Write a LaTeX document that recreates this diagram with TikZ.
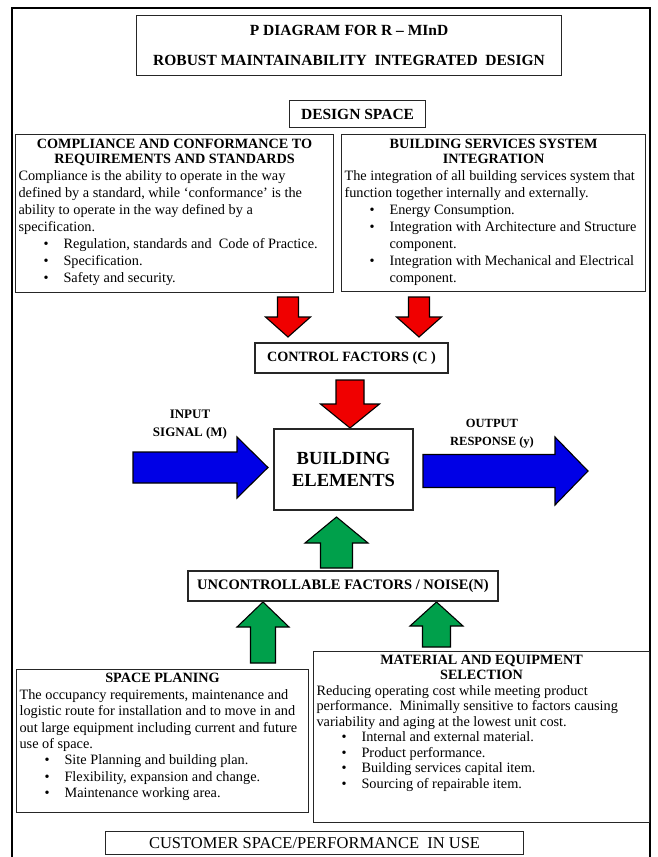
\documentclass[tikz,border=0pt]{standalone}
\usepackage{fontspec}
\setmainfont{Liberation Serif}
\definecolor{pred}{RGB}{240, 0, 0}
\definecolor{pblue}{RGB}{0, 0, 230}
\definecolor{pgreen}{RGB}{0, 160, 75}
\newcommand{\pbul}[1]{\par\hangindent=45pt\hangafter=1\noindent\hspace*{25pt}\makebox[20pt][l]{\textbullet}#1}
\newcommand{\phead}[1]{{\centering\bfseries\fontsize{14.2}{15}\selectfont #1\par}}

\begin{document}
\begin{tikzpicture}[x=1pt, y=-1pt,
	pbox/.style={draw=black!85, line width=1.1pt, fill=white, inner xsep=3pt, inner ysep=0pt},
	parrow/.style={draw=black, line width=1.1pt, line join=miter},
	plabel/.style={align=center, font=\fontsize{13}{18}\selectfont\bfseries}]
	\useasboundingbox (0, 0) rectangle (657, 857);
	\clip (0, 0) rectangle (657, 857);
	\fill[white] (0, 0) rectangle (657, 857);

	% outer frame
	\draw[line width=1.8pt] (12, 860) -- (12, 8) -- (650, 8) -- (650, 860);

	% title
	\node[pbox, anchor=north west, minimum width=425pt, minimum height=60pt, align=center,
		font=\fontsize{15.5}{30}\selectfont\bfseries] (title) at (136, 15)
		{P DIAGRAM FOR R – MInD\\ROBUST MAINTAINABILITY\ \ INTEGRATED\ \ DESIGN};
	\node[pbox, anchor=north west, minimum width=136pt, minimum height=27pt,
		font=\fontsize{15.5}{17}\selectfont\bfseries] (design) at (289, 100) {DESIGN SPACE};

	% design space boxes
	\node[pbox, anchor=north west] (compliance) at (15, 134) {\parbox[c][158pt][t]{312pt}{%
		\fontsize{14.3}{17}\selectfont\vspace*{5pt}
		\phead{COMPLIANCE AND CONFORMANCE TO\\REQUIREMENTS AND STANDARDS}
		\raggedright
		Compliance is the ability to operate in the way\\
		defined by a standard, while ‘conformance’ is the\\
		ability to operate in the way defined by a\\
		specification.
		\pbul{Regulation, standards and\ \ Code of Practice.}
		\pbul{Specification.}
		\pbul{Safety and security.}}};
	\node[pbox, anchor=north west] (services) at (341, 134) {\parbox[c][157pt][t]{298pt}{%
		\fontsize{14.3}{17}\selectfont\vspace*{5pt}
		\phead{BUILDING SERVICES SYSTEM\\INTEGRATION}
		\raggedright
		The integration of all building services system that\\
		function together internally and externally.
		\pbul{Energy Consumption.}
		\pbul{Integration with Architecture and Structure\newline component.}
		\pbul{Integration with Mechanical and Electrical\newline component.}}};

	% control factors
	\foreach \x/\ya/\yb/\s/\h/\k in {288/297/337/10.5/22.5/20, 419/297/337/10.5/22.5/20, 350/380/428/14/29.5/24}{
		\filldraw[parrow, fill=pred] (\x-\s, \ya) -- (\x+\s, \ya) -- (\x+\s, \yb-\k) -- (\x+\h, \yb-\k)
			-- (\x, \yb) -- (\x-\h, \yb-\k) -- (\x-\s, \yb-\k) -- cycle;
	}
	\node[pbox, minimum width=193pt, minimum height=30pt, font=\fontsize{14.2}{16}\selectfont\bfseries]
		(control) at (351.5, 358) {CONTROL FACTORS (C )};

	% signal and response
	\foreach \xa/\xb/\y/\s/\h/\k in {133/268/467.5/15.5/30.5/31, 423/588/471/16.5/34/33}{
		\filldraw[parrow, fill=pblue] (\xa, \y-\s) -- (\xb-\k, \y-\s) -- (\xb-\k, \y-\h) -- (\xb, \y)
			-- (\xb-\k, \y+\h) -- (\xb-\k, \y+\s) -- (\xa, \y+\s) -- cycle;
	}
	\node[pbox, minimum width=139pt, minimum height=81pt, align=center,
		font=\fontsize{18.5}{22}\selectfont\bfseries] (elements) at (343.5, 469.5) {BUILDING\\ELEMENTS};
	\node[plabel] (input) at (190, 425) {INPUT\\SIGNAL (M)};
	\node[plabel, font=\fontsize{12.5}{18}\selectfont\bfseries] (output) at (492, 434) {OUTPUT\\RESPONSE (y)};

	% noise factors
	\foreach \x/\ya/\yb/\s/\h/\k in {336.5/517/568/16/31.5/26, 263/602/663/12.5/26/25, 436.5/602/647/14/26.5/24}{
		\filldraw[parrow, fill=pgreen] (\x-\s, \yb) -- (\x+\s, \yb) -- (\x+\s, \ya+\k) -- (\x+\h, \ya+\k)
			-- (\x, \ya) -- (\x-\h, \ya+\k) -- (\x-\s, \ya+\k) -- cycle;
	}
	\node[pbox, minimum width=310pt, minimum height=30pt, font=\fontsize{14.5}{16}\selectfont\bfseries]
		(noise) at (343, 586) {UNCONTROLLABLE FACTORS / NOISE(N)};

	% noise boxes
	\node[pbox, anchor=north west] (space) at (16, 669) {\parbox[c][143pt][t]{286pt}{%
		\fontsize{14.3}{16.4}\selectfont\vspace*{4pt}
		\phead{SPACE PLANING}
		\raggedright
		The occupancy requirements, maintenance and\\
		logistic route for installation and to move in and\\
		out large equipment including current and future\\
		use of space.
		\pbul{Site Planning and building plan.}
		\pbul{Flexibility, expansion and change.}
		\pbul{Maintenance working area.}}};
	\node[pbox, anchor=north west] (material) at (313, 651) {\parbox[c][171pt][t]{330pt}{%
		\fontsize{14.3}{15.5}\selectfont\vspace*{4pt}
		\phead{MATERIAL AND EQUIPMENT\\SELECTION}
		\raggedright
		Reducing operating cost while meeting product\\
		performance.\ \ Minimally sensitive to factors causing\\
		variability and aging at the lowest unit cost.
		\pbul{Internal and external material.}
		\pbul{Product performance.}
		\pbul{Building services capital item.}
		\pbul{Sourcing of repairable item.}}};

	% customer
	\node[pbox, anchor=north west, minimum width=418pt, inner ysep=6pt,
		font=\fontsize{16.5}{18}\selectfont] (customer) at (105, 831) {CUSTOMER SPACE/PERFORMANCE\ \ IN USE};
\end{tikzpicture}
\end{document}
